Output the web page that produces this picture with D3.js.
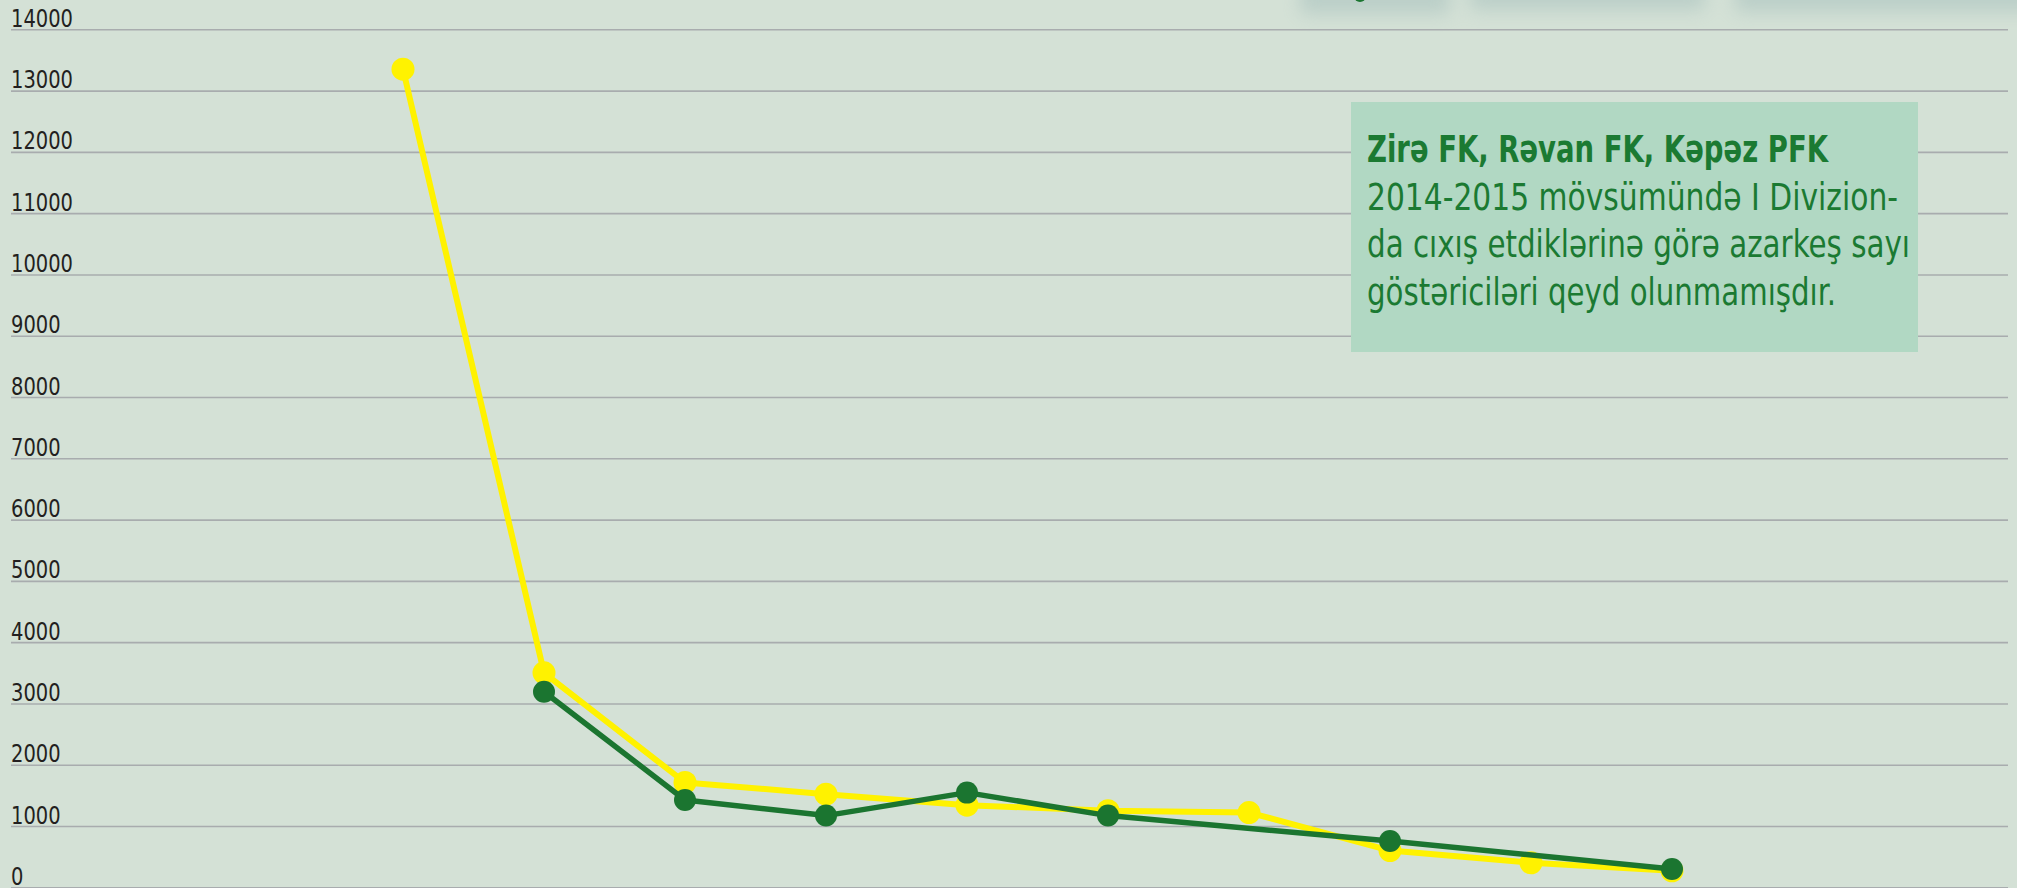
<!DOCTYPE html>
<html>
<head>
<meta charset="utf-8">
<script src="https://cdn.jsdelivr.net/npm/d3@7"></script>
<style>
  html, body { margin: 0; padding: 0; background: #d4e1d6; }
  svg { display: block; }
</style>
</head>
<body>
<svg id="chart" width="2017" height="888"></svg>
<script>
// ---- data ----
const categories = ["1", "2", "3", "4", "5", "6", "7", "8", "9", "10"];
const yellowValues = [13350, 3500, 1710, 1520, 1340, 1250, 1220, 600, 400, 270];
const greenValues  = [null, 3190, 1425, 1170, 1545, 1170, null, 755, null, 300];
const yTicks = [0, 1000, 2000, 3000, 4000, 5000, 6000, 7000, 8000, 9000, 10000, 11000, 12000, 13000, 14000];
const noteTitle = "Zirə FK, Rəvan FK, Kəpəz PFK";
const noteLines = ["2014-2015 mövsümündə I Divizion-", "da cıxış etdiklərinə görə azarkeş sayı", "göstəriciləri qeyd olunmamışdır."];

// ---- layout ----
const W = 2017, H = 888;
const FONT = "'Liberation Sans Narrow', 'DejaVu Sans Condensed', 'Roboto', sans-serif";
const svg = d3.select("#chart");

svg.append("rect").attr("width", W).attr("height", H).attr("fill", "#d4e1d6");

// blurred header remnant at the top-right
const defs = svg.append("defs");
defs.append("filter").attr("id", "blur")
  .attr("filterUnits", "userSpaceOnUse").attr("x", 1200).attr("y", -100).attr("width", 900).attr("height", 200)
  .append("feGaussianBlur").attr("stdDeviation", 9);
const blurG = svg.append("g").attr("filter", "url(#blur)").attr("opacity", 0.32);
[[1300, 1450, 4], [1470, 1705, 0], [1735, 2040, 2]].forEach(([a, b, o]) => {
  blurG.append("rect").attr("x", a).attr("y", -20).attr("width", b - a).attr("height", 30 + o).attr("fill", "#86a9ac");
});

const y = d3.scaleLinear().domain([0, 14000]).range([887.3, 29.3]);
const x = d3.scalePoint().domain(categories).range([403, 1672]);

// gridlines + tick labels via axis
const axis = d3.axisRight(y).tickValues(yTicks).tickSize(1997).tickFormat(d3.format("d"));
const gAxis = svg.append("g").attr("transform", "translate(11,0)").call(axis);
gAxis.select(".domain").remove();
gAxis.selectAll(".tick line").attr("stroke", "#a8acae").attr("stroke-width", 1.6);
gAxis.selectAll(".tick text")
  .attr("x", 0).attr("dy", null).attr("y", -3)
  .attr("text-anchor", "start")
  .attr("fill", "#231f20")
  .style("font-family", FONT).style("font-size", "25px")
  .attr("textLength", d => String(d).length * 12.4)
  .attr("lengthAdjust", "spacingAndGlyphs");

// note box
const boxX = 1351, boxY = 102, boxW = 567, boxH = 250;
svg.append("rect").attr("x", boxX).attr("y", boxY).attr("width", boxW).attr("height", boxH).attr("fill", "#b1d8c3");
const lineWidths = [461, 531, 543, 469];
const noteText = svg.append("g").attr("fill", "#1b7a32").style("font-family", FONT).style("font-size", "37px");
noteText.append("text").attr("x", 1367).attr("y", 161.7).attr("font-weight", "bold")
  .attr("textLength", lineWidths[0]).attr("lengthAdjust", "spacingAndGlyphs").text(noteTitle);
noteLines.forEach((t, i) => {
  noteText.append("text").attr("x", 1367).attr("y", 209.5 + i * 47.8)
    .attr("textLength", lineWidths[i + 1]).attr("lengthAdjust", "spacingAndGlyphs").text(t);
});

// small green mark peeking at the top
svg.append("circle").attr("cx", 1360).attr("cy", -4).attr("r", 6).attr("fill", "#1b7530");

// series
const yellowData = categories.map((c, i) => ({c, v: yellowValues[i]})).filter(d => d.v != null);
const greenData = categories.map((c, i) => ({c, v: greenValues[i]})).filter(d => d.v != null);
const line = d3.line().x(d => x(d.c)).y(d => y(d.v));

svg.append("path").datum(yellowData).attr("d", line).attr("fill", "none")
  .attr("stroke", "#fff200").attr("stroke-width", 6).attr("stroke-linejoin", "round");
svg.append("g").selectAll("circle").data(yellowData).join("circle")
  .attr("cx", d => x(d.c)).attr("cy", d => y(d.v)).attr("r", 11.5).attr("fill", "#fff200");

svg.append("path").datum(greenData).attr("d", line).attr("fill", "none")
  .attr("stroke", "#1b7530").attr("stroke-width", 5.5).attr("stroke-linejoin", "round");
svg.append("g").selectAll("circle").data(greenData).join("circle")
  .attr("cx", d => x(d.c)).attr("cy", d => y(d.v)).attr("r", 11).attr("fill", "#1b7530");
</script>
</body>
</html>
